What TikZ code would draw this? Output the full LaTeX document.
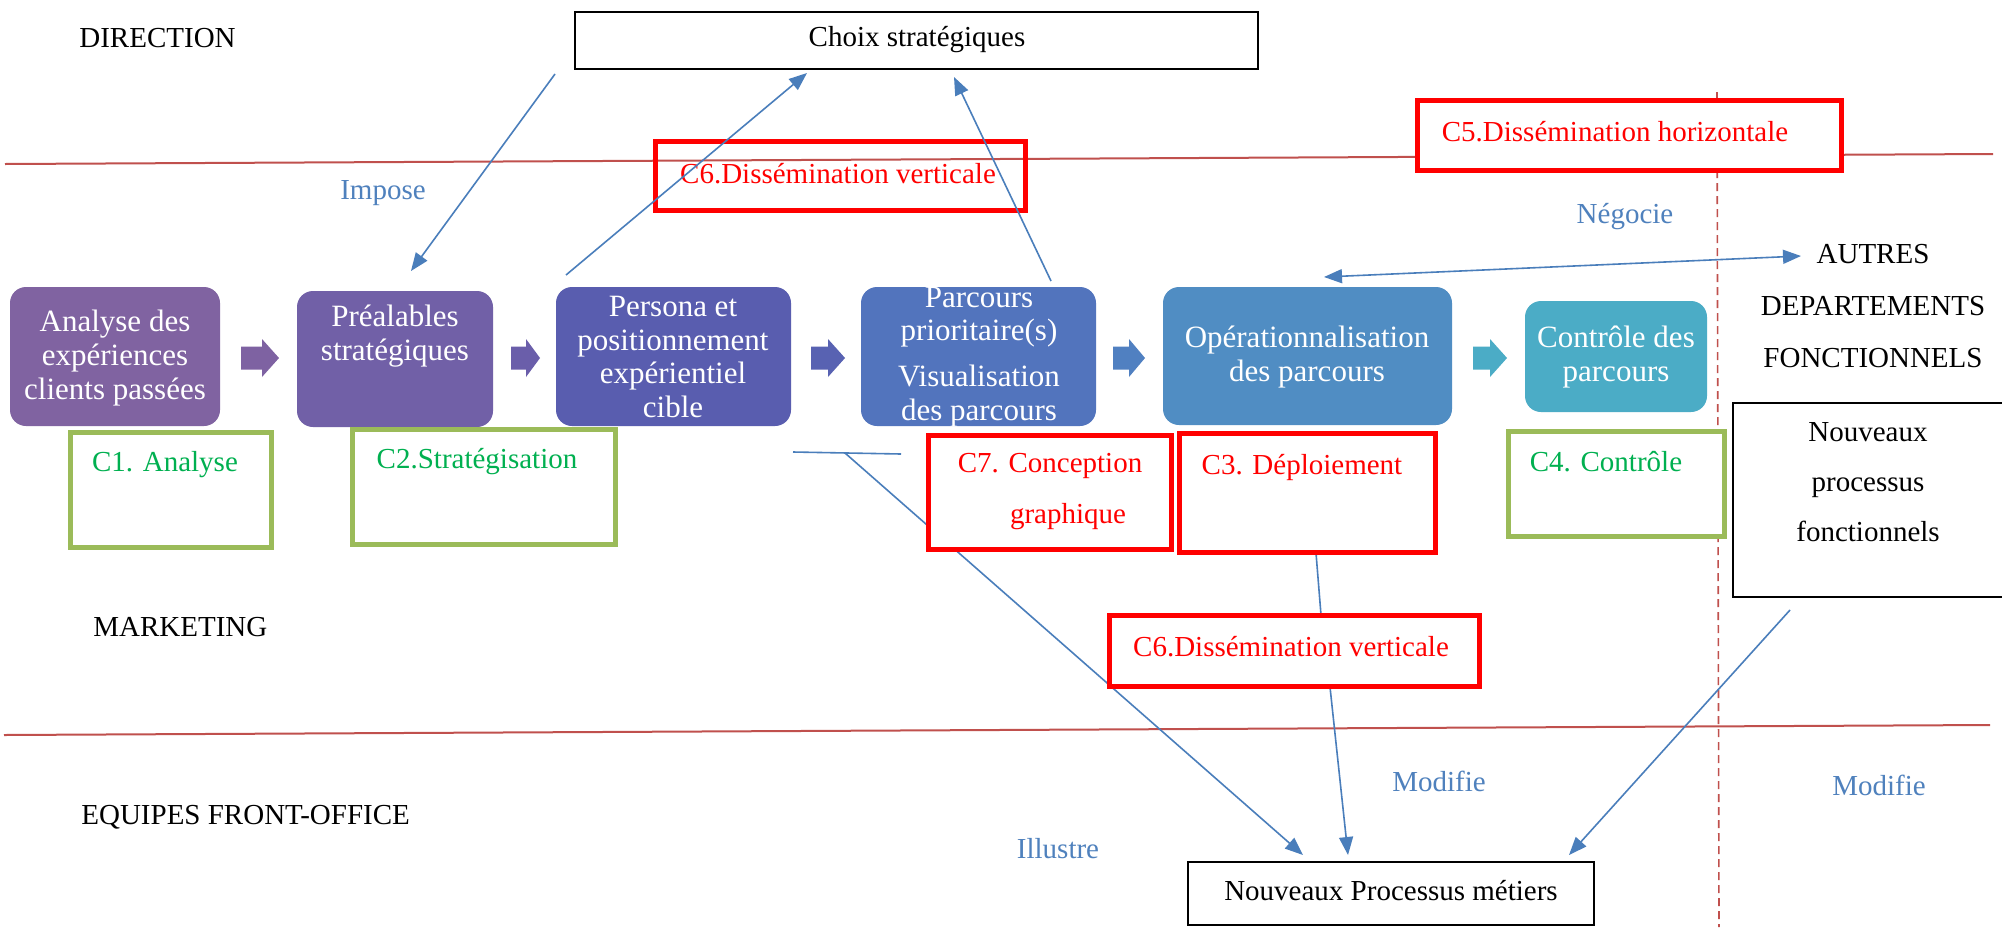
\documentclass[tikz,border=0pt]{standalone}
\usepackage{fontspec}
\setmainfont{Liberation Serif}
\usetikzlibrary{arrows.meta,fit}
\definecolor{redline}{HTML}{C0504D}
\definecolor{connc}{HTML}{4A7EBB}
\definecolor{gborder}{HTML}{9BBB59}
\definecolor{gtext}{HTML}{00B050}
\definecolor{bluetext}{HTML}{4F81BD}
\definecolor{pA}{RGB}{128,99,161}
\definecolor{pB}{RGB}{113,96,167}
\definecolor{pC}{RGB}{89,93,175}
\definecolor{pD}{RGB}{82,116,189}
\definecolor{pE}{RGB}{80,141,195}
\definecolor{pF}{RGB}{75,172,198}
\definecolor{aA}{RGB}{126,98,162}
\definecolor{aB}{RGB}{106,94,170}
\definecolor{aC}{RGB}{88,98,178}
\definecolor{aD}{RGB}{80,128,193}
\definecolor{aE}{RGB}{75,172,198}
\newcommand\chevarrow[4]{\fill[#4] (#1,346.5) -- (#2,346.5) -- (#2,339) -- (#3,358) -- (#2,377) -- (#2,369.5) -- (#1,369.5) -- cycle;}
\begin{document}
\begin{tikzpicture}[x=0.5pt,y=-0.5pt,
  boxfit/.style={inner sep=0pt, outer sep=0pt},
  proc/.style={boxfit, rounded corners=8pt},
  greenbox/.style={boxfit, draw=gborder, line width=2.5pt, fill=white},
  redbox/.style={boxfit, draw=red, line width=2.5pt, fill=white},
  redopen/.style={boxfit, draw=red, line width=2.5pt},
  blackbox/.style={boxfit, draw=black, line width=0.6pt, fill=white},
  ptext/.style={text=white, align=center, font=\fontsize{15.5}{16.8}\selectfont, inner sep=0pt},
  lbl/.style={font=\fontsize{14.5}{17}\selectfont, inner sep=0pt},
  blbl/.style={lbl, text=bluetext},
  gtxt/.style={lbl, text=gtext},
  rtxt/.style={lbl, text=red},
  connl/.style={draw=connc, line width=0.8pt},
  arr/.style={connl, -{Triangle[length=9pt,width=7pt]}},
  darr/.style={connl, {Triangle[length=9pt,width=7pt]}-{Triangle[length=9pt,width=7pt]}}
]
\useasboundingbox (0,0) rectangle (2002,927);
\fill[white] (0,0) rectangle (2002,927);

% swimlane separators
\draw[redline, line width=1pt] (5,164) -- (1993,154);
\draw[redline, line width=1pt] (4,735) -- (1990,725);
\draw[redline, line width=0.8pt, dash pattern=on 4pt off 2.5pt] (1717,92) -- (1719,927);

% lane labels
\node[lbl, anchor=west] (ldir) at (79,38) {DIRECTION};
\node[lbl, anchor=west] (lmkt) at (93,627) {MARKETING};
\node[lbl, anchor=west] (lfo) at (81,817) {EQUIPES FRONT-OFFICE};
\node[lbl, align=center] (lautres) at (1873,306) {AUTRES\\[9pt]DEPARTEMENTS\\[9pt]FONCTIONNELS};

% top choice box
\node[blackbox, fit={(575,12) (1258,69)}] (choix) {};
\node[lbl] (choixt) at (917,40) {Choix stratégiques};

% top C6 open box
\node[redopen, fit={(655,141) (1025,210)}] (c6a) {};
\node[rtxt] (c6at) at (838,174) {C6.Dissémination verticale};

% process boxes
\node[proc, fill=pA, fit={(10,287) (220,426)}] (p1) {};
\node[proc, fill=pB, fit={(297,291) (493,427)}] (p2) {};
\node[proc, fill=pC, fit={(556,287) (791,426)}] (p3) {};
\node[proc, fill=pD, fit={(861,287) (1096,426)}] (p4) {};
\node[proc, fill=pE, fit={(1163,287) (1452,425)}] (p5) {};
\node[proc, fill=pF, fit={(1525,301) (1707,412)}] (p6) {};
\node[ptext] (p1t) at (115,358) {Analyse des\\expériences\\clients passées};
\node[ptext] (p2t) at (395,336) {Préalables\\stratégiques};
\node[ptext] (p3t) at (673,357) {Persona et\\positionnement\\expérientiel\\cible};
\node[ptext] (p4t) at (979,317) {Parcours\\prioritaire(s)};
\node[ptext] (p4u) at (979,396) {Visualisation\\des parcours};
\node[ptext] (p5t) at (1307,357) {Opérationnalisation\\des parcours};
\node[ptext] (p6t) at (1616,357) {Contrôle des\\parcours};

% chevrons
\chevarrow{241}{262}{279}{aA}
\chevarrow{511}{526}{540}{aB}
\chevarrow{811}{828}{845}{aC}
\chevarrow{1113}{1129}{1145}{aD}
\chevarrow{1473}{1490}{1507}{aE}

% connector coordinates
\coordinate (impS) at (555,74);
\coordinate (impE) at (411,271);
\coordinate (p3S) at (566,275);
\coordinate (chE1) at (807,73);
\coordinate (p4S) at (1051,281);
\coordinate (chE2) at (954,77);
\coordinate (negA) at (1324,277);
\coordinate (negB) at (1801,256);
\coordinate (illA) at (793,452);
\coordinate (illB) at (901,454);
\coordinate (illS) at (845,453);
\coordinate (illE) at (1303,855);
\coordinate (depA) at (1316,553);
\coordinate (depB) at (1321,615);
\coordinate (depC) at (1330,687);
\coordinate (depE) at (1348,855);
\coordinate (fonS) at (1790,610);
\coordinate (fonE) at (1569,855);

% connectors
\draw[arr] (impS) -- (impE);
\draw[arr] (p3S) -- (chE1);
\draw[arr] (p4S) -- (chE2);
\draw[darr] (negA) -- (negB);
\draw[connl] (illA) -- (illB);
\draw[arr] (illS) -- (illE);
\draw[connl] (depA) -- (depB);
\draw[arr] (depC) -- (depE);
\draw[arr] (fonS) -- (fonE);

% connector labels
\node[blbl] (limp) at (383,193) {Impose};
\node[blbl] (lneg) at (1625,217) {Négocie};
\node[blbl] (lill) at (1058,849) {Illustre};
\node[blbl] (lmod1) at (1439,781) {Modifie};
\node[blbl] (lmod2) at (1879,785) {Modifie};

% competence boxes
\node[greenbox, fit={(70,432) (271,547)}] (c1) {};
\node[gtxt] (c1t) at (165,465) {C1. Analyse};
\node[greenbox, fit={(352,429) (615,544)}] (c2) {};
\node[gtxt] (c2t) at (477,462) {C2.Stratégisation};
\node[redbox, fit={(928,435) (1171,549)}] (c7) {};
\node[rtxt] (c7t) at (1050,466) {C7. Conception};
\node[rtxt] (c7u) at (1068,517) {graphique};
\node[redbox, fit={(1179,433) (1435,552)}] (c3) {};
\node[rtxt] (c3t) at (1302,467) {C3. Déploiement};
\node[greenbox, fit={(1508,431) (1724,536)}] (c4) {};
\node[gtxt] (c4t) at (1606,462) {C4. Contrôle};
\node[blackbox, fit={(1733,403) (2004,597)}] (npf) {};
\node[lbl, align=center] (npft) at (1868,482) {Nouveaux\\[8pt]processus\\[8pt]fonctionnels};

\node[redbox, fit={(1417,100) (1841,170)}] (c5) {};
\node[rtxt] (c5t) at (1615,132) {C5.Dissémination horizontale};
\node[redbox, fit={(1109,615) (1479,686)}] (c6b) {};
\node[rtxt] (c6bt) at (1291,647) {C6.Dissémination verticale};

\node[blackbox, fit={(1188,862) (1594,925)}] (npm) {};
\node[lbl] (npmt) at (1391,891) {Nouveaux Processus métiers};
\end{tikzpicture}
\end{document}
